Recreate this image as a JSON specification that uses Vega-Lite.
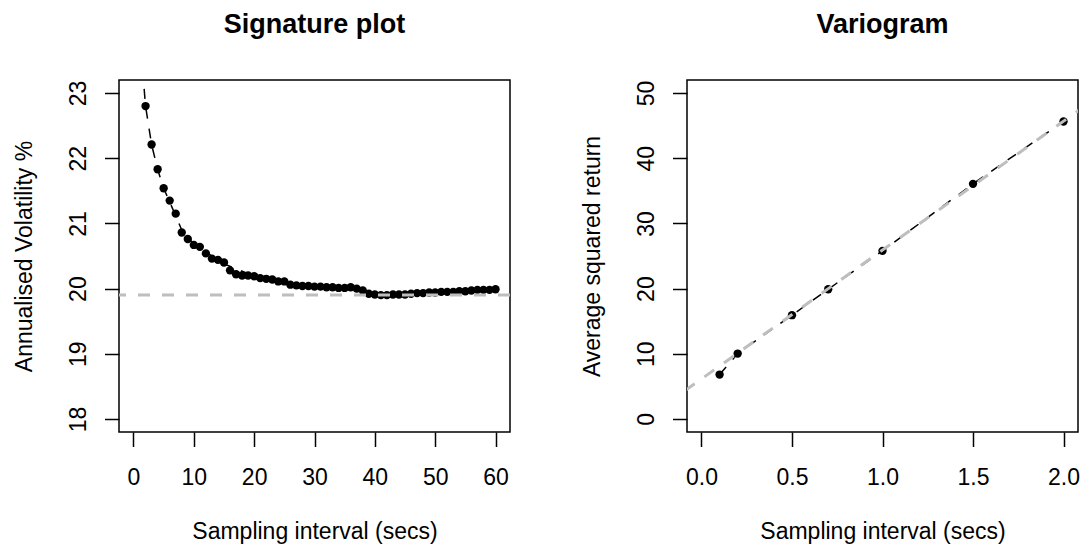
{
  "$schema": "https://vega.github.io/schema/vega-lite/v6.json",
  "background": "white",
  "padding": {"left": 12, "top": 10, "right": 0, "bottom": 0},
  "spacing": 177,
  "bounds": "flush",
  "config": {
    "font": "Liberation Sans",
    "view": {"stroke": "black", "strokeWidth": 1.5},
    "axis": {
      "domain": false, "grid": false,
      "tickColor": "black", "tickSize": 14.5, "tickWidth": 1.5,
      "labelColor": "black", "labelFont": "Liberation Sans", "labelFontSize": 23,
      "titleColor": "black", "titleFont": "Liberation Sans", "titleFontSize": 23, "titleFontWeight": "normal"
    },
    "axisX": {"labelBaseline": "alphabetic", "labelPadding": 38, "labelFlush": false, "labelOverlap": false,
      "titleBaseline": "alphabetic", "titleY": 106, "titleX": 195.5, "titleAlign": "center"},
    "axisY": {"labelAngle": -90, "labelAlign": "center", "labelBaseline": "alphabetic", "labelPadding": 19.5, "labelFlush": false, "labelOverlap": false,
      "titleAngle": -90, "titleBaseline": "alphabetic", "titleX": -88, "titleY": 176, "titleAlign": "center"},
    "title": {"font": "Liberation Sans", "fontSize": 27, "fontWeight": "bold", "color": "black", "anchor": "middle", "baseline": "alphabetic", "offset": 41}
  },
  "datasets": {
    "sig": [
      {"interval": 2, "vol": 22.80}, {"interval": 3, "vol": 22.21}, {"interval": 4, "vol": 21.83}, {"interval": 5, "vol": 21.54},
      {"interval": 6, "vol": 21.35}, {"interval": 7, "vol": 21.15}, {"interval": 8, "vol": 20.86}, {"interval": 9, "vol": 20.76},
      {"interval": 10, "vol": 20.67}, {"interval": 11, "vol": 20.64}, {"interval": 12, "vol": 20.54}, {"interval": 13, "vol": 20.46},
      {"interval": 14, "vol": 20.44}, {"interval": 15, "vol": 20.40}, {"interval": 16, "vol": 20.28}, {"interval": 17, "vol": 20.22},
      {"interval": 18, "vol": 20.20}, {"interval": 19, "vol": 20.20}, {"interval": 20, "vol": 20.19}, {"interval": 21, "vol": 20.16},
      {"interval": 22, "vol": 20.15}, {"interval": 23, "vol": 20.14}, {"interval": 24, "vol": 20.11}, {"interval": 25, "vol": 20.11},
      {"interval": 26, "vol": 20.06}, {"interval": 27, "vol": 20.05}, {"interval": 28, "vol": 20.04}, {"interval": 29, "vol": 20.04},
      {"interval": 30, "vol": 20.03}, {"interval": 31, "vol": 20.03}, {"interval": 32, "vol": 20.02}, {"interval": 33, "vol": 20.02},
      {"interval": 34, "vol": 20.01}, {"interval": 35, "vol": 20.01}, {"interval": 36, "vol": 20.02}, {"interval": 37, "vol": 20.00},
      {"interval": 38, "vol": 19.97}, {"interval": 39, "vol": 19.92}, {"interval": 40, "vol": 19.91}, {"interval": 41, "vol": 19.90},
      {"interval": 42, "vol": 19.90}, {"interval": 43, "vol": 19.91}, {"interval": 44, "vol": 19.91}, {"interval": 45, "vol": 19.91},
      {"interval": 46, "vol": 19.92}, {"interval": 47, "vol": 19.93}, {"interval": 48, "vol": 19.93}, {"interval": 49, "vol": 19.94},
      {"interval": 50, "vol": 19.94}, {"interval": 51, "vol": 19.95}, {"interval": 52, "vol": 19.95}, {"interval": 53, "vol": 19.95},
      {"interval": 54, "vol": 19.96}, {"interval": 55, "vol": 19.96}, {"interval": 56, "vol": 19.97}, {"interval": 57, "vol": 19.98},
      {"interval": 58, "vol": 19.98}, {"interval": 59, "vol": 19.98}, {"interval": 60, "vol": 19.99}
    ],
    "sigfit": [
      {"interval": 1.5, "vol": 23.37}, {"interval": 2, "vol": 22.80}, {"interval": 3, "vol": 22.21}, {"interval": 4, "vol": 21.83},
      {"interval": 5, "vol": 21.54}, {"interval": 6, "vol": 21.33}, {"interval": 8, "vol": 20.90}, {"interval": 10, "vol": 20.68},
      {"interval": 15, "vol": 20.38}, {"interval": 20, "vol": 20.19}, {"interval": 25, "vol": 20.10}, {"interval": 30, "vol": 20.03},
      {"interval": 35, "vol": 20.01}, {"interval": 40, "vol": 19.91}, {"interval": 45, "vol": 19.91}, {"interval": 50, "vol": 19.94},
      {"interval": 55, "vol": 19.96}, {"interval": 60, "vol": 19.99}
    ],
    "sighline": [{"level": 19.9}],
    "vario": [
      {"interval": 0.1, "sq": 6.81}, {"interval": 0.2, "sq": 10.03}, {"interval": 0.5, "sq": 15.92}, {"interval": 0.7, "sq": 19.90},
      {"interval": 1.0, "sq": 25.79}, {"interval": 1.5, "sq": 36.07}, {"interval": 2.0, "sq": 45.64}
    ],
    "variofit": [{"interval": -0.2, "sq": 2.19}, {"interval": 2.3, "sq": 51.61}]
  },
  "hconcat": [
    {
      "width": 391, "height": 352,
      "title": "Signature plot",
      "encoding": {
        "x": {"type": "quantitative", "scale": {"domain": [-2.4, 62.4], "nice": false, "zero": false},
          "axis": {"title": "Sampling interval (secs)", "values": [0, 10, 20, 30, 40, 50, 60]}},
        "y": {"type": "quantitative", "scale": {"domain": [17.8, 23.2], "nice": false, "zero": false},
          "axis": {"title": "Annualised Volatility %", "values": [18, 19, 20, 21, 22, 23]}}
      },
      "layer": [
        {"data": {"name": "sigfit"}, "mark": {"type": "line", "color": "black", "strokeWidth": 1.5, "strokeDash": [10, 10], "clip": true},
          "encoding": {"x": {"field": "interval", "type": "quantitative"}, "y": {"field": "vol", "type": "quantitative"}}},
        {"data": {"name": "sig"}, "mark": {"type": "circle", "color": "black", "opacity": 1, "size": 70, "clip": true},
          "encoding": {"x": {"field": "interval", "type": "quantitative"}, "y": {"field": "vol", "type": "quantitative"}}},
        {"data": {"name": "sighline"}, "mark": {"type": "rule", "color": "#BEBEBE", "strokeWidth": 3, "strokeDash": [12, 12]},
          "encoding": {"y": {"field": "level", "type": "quantitative"}}}
      ]
    },
    {
      "width": 391, "height": 352,
      "title": "Variogram",
      "encoding": {
        "x": {"type": "quantitative", "scale": {"domain": [-0.08, 2.08], "nice": false, "zero": false},
          "axis": {"title": "Sampling interval (secs)", "values": [0, 0.5, 1, 1.5, 2], "format": ".1f"}},
        "y": {"type": "quantitative", "scale": {"domain": [-2, 52], "nice": false, "zero": false},
          "axis": {"title": "Average squared return", "values": [0, 10, 20, 30, 40, 50]}}
      },
      "layer": [
        {"data": {"name": "vario"}, "mark": {"type": "line", "color": "black", "strokeWidth": 1.5, "strokeDash": [10, 10], "clip": true},
          "encoding": {"x": {"field": "interval", "type": "quantitative"}, "y": {"field": "sq", "type": "quantitative"}}},
        {"data": {"name": "vario"}, "mark": {"type": "circle", "color": "black", "opacity": 1, "size": 70, "clip": true},
          "encoding": {"x": {"field": "interval", "type": "quantitative"}, "y": {"field": "sq", "type": "quantitative"}}},
        {"data": {"name": "variofit"}, "mark": {"type": "line", "color": "#BEBEBE", "strokeWidth": 3, "strokeDash": [12, 12], "clip": true},
          "encoding": {"x": {"field": "interval", "type": "quantitative"}, "y": {"field": "sq", "type": "quantitative"}}}
      ]
    }
  ]
}
